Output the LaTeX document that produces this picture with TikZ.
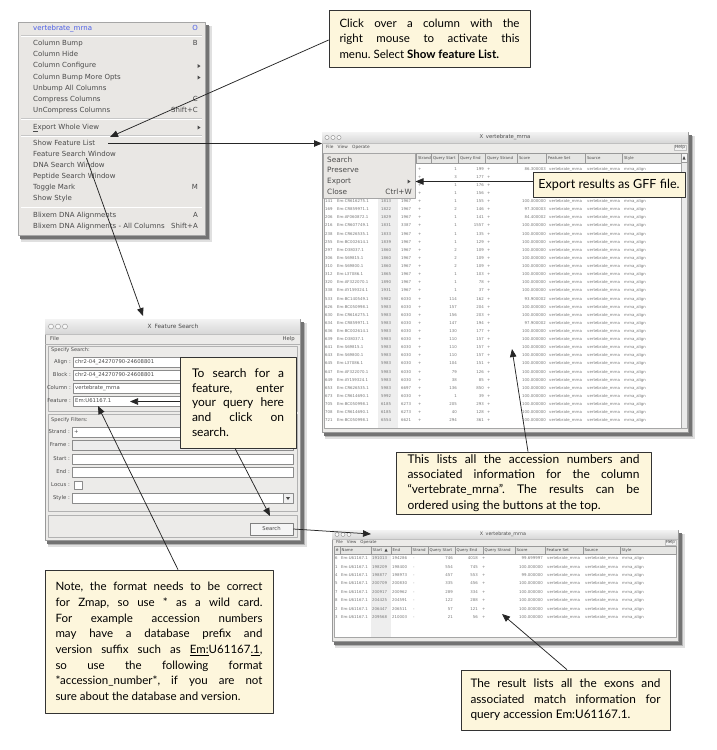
\documentclass[tikz,border=0pt]{standalone}
\usepackage{fontspec}
\setmainfont{Lato}
\newfontfamily\ui{DejaVu Sans}
\usetikzlibrary{arrows.meta,shadows}
\definecolor{cream}{HTML}{FDF6DC}
\definecolor{winbg}{HTML}{ECEBE9}
\definecolor{menubg}{HTML}{E9E7E4}
\definecolor{uitext}{HTML}{4A4A4A}
\definecolor{menublue}{HTML}{4B5EE6}
\definecolor{hdrbg}{HTML}{E6E6E4}
\definecolor{sortcol}{HTML}{EEEEEE}
\definecolor{tabtext}{HTML}{767676}
\newcommand\jl[1]{\hbox to \hsize{\spaceskip=.25em plus 1fil\relax #1}}
\newcommand\jlast[1]{\hbox to \hsize{#1\hfil}}
\newcommand\winshadow[4]{%
  \fill[black!12] (#1+3,#2+4) rectangle (#3+6.5,#4+6.5);
  \fill[black!30] (#1+3,#2+3.5) rectangle (#3+5,#4+5);
  \fill[black!55] (#1+2,#2+2.5) rectangle (#3+3.5,#4+3.5);
}
\tikzset{
 mi/.style={anchor=west, inner sep=0pt, text height=5.3pt, text depth=1.5pt, font=\ui\fontsize{7}{8}\selectfont, text=uitext},
 ms/.style={mi, anchor=east},
 callout/.style={draw=black!80, line width=0.7pt, fill=cream, inner sep=0pt, font=\fontsize{11.5}{15.5}\selectfont, drop shadow={shadow xshift=1.2pt,shadow yshift=-1.2pt,opacity=.45}},
 conn/.style={line width=0.75pt, black!85},
 arr/.style={conn, -{Triangle[length=8pt,width=6.5pt]}},
 tc/.style={inner sep=0pt, font=\ui\fontsize{3.9}{4}\selectfont, text=tabtext, text height=3pt, text depth=0.8pt},
 tcw/.style={tc, anchor=west},
 tce/.style={tc, anchor=east},
 hl/.style={tc, anchor=west, text=uitext},
 fl/.style={inner sep=0pt, anchor=east, font=\ui\fontsize{5.3}{6}\selectfont, text=uitext},
 ft/.style={inner sep=0pt, anchor=west, font=\ui\fontsize{5.3}{6}\selectfont, text=uitext},
 field/.style={draw=black!45, fill=white, line width=0.4pt},
 ttl/.style={inner sep=0pt, font=\ui\fontsize{5.3}{6}\selectfont, text=uitext},
 mb/.style={inner sep=0pt, anchor=west, font=\ui\fontsize{4.3}{5}\selectfont, text=uitext},
 hb/.style={inner sep=0.8pt, anchor=east, font=\ui\fontsize{4.3}{5}\selectfont, text=uitext, draw=black!25, fill=black!5},
 pm/.style={anchor=west, inner sep=0pt, text height=5.5pt, text depth=1.5pt, font=\ui\fontsize{7.3}{8}\selectfont, text=uitext},
}
\begin{document}
\begin{tikzpicture}[x=1pt,y=-1pt,line join=round]
\useasboundingbox (0,0) rectangle (716,750);
\fill[white] (0,0) rectangle (716,750);

% ================= Context menu
\winshadow{18}{22}{205}{235}
\filldraw[fill=menubg,draw=black!35,line width=.4pt] (18,22) rectangle (205,235);
\node[mi,text=menublue] (cm0) at (33,28.5) {vertebrate\_mrna};
\node[ms,text=menublue] (cm0k) at (198,28.5) {O};
\node[mi] (cm1) at (33,44) {Column Bump};
\node[ms] (cm1k) at (198,44) {B};
\node[mi] (cm2) at (33,55) {Column Hide};
\node[mi] (cm3) at (33,66) {Column Configure};
\node[mi] (cm4) at (33,77.5) {Column Bump More Opts};
\node[mi] (cm5) at (33,89) {Unbump All Columns};
\node[mi] (cm6) at (33,100) {Compress Columns};
\node[ms] (cm6k) at (198,100) {C};
\node[mi] (cm7) at (33,111) {UnCompress Columns};
\node[ms] (cm7k) at (198,111) {Shift+C};
\node[mi] (cm8) at (33,127.5) {\underline{E}xport Whole View};
\node[mi] (sfl) at (33,143.5) {Show Feature List};
\node[mi] (fsw) at (33,154.5) {Feature Search Window};
\node[mi] (cm11) at (33,165.5) {DNA Search Window};
\node[mi] (cm12) at (33,177) {Peptide Search Window};
\node[mi] (cm13) at (33,188) {Toggle Mark};
\node[ms] (cm13k) at (198,188) {M};
\node[mi] (cm14) at (33,199) {Show Style};
\node[mi] (cm15) at (33,215.5) {Blixem DNA Alignments};
\node[ms] (cm15k) at (198,215.5) {A};
\node[mi] (cm16) at (33,226.5) {Blixem DNA Alignments - All Columns};
\node[ms] (cm16k) at (198,226.5) {Shift+A};
\foreach \yy in {66,77.5,127.5} \fill[uitext] (197.5,\yy-2) -- (200.5,\yy) -- (197.5,\yy+2) -- cycle;
\foreach \yy in {35.5,118.5,135.5,207} {\draw[black!22,line width=.6pt] (21,\yy) -- (202,\yy); \draw[white,line width=.5pt] (21,\yy+.7) -- (202,\yy+.7);}

% ================= Middle window (feature list)
\winshadow{322}{132}{688}{432}
\filldraw[fill=winbg,draw=black!40,line width=.4pt] (322,132) rectangle (688,432);
\shade[top color=black!5,bottom color=black!16] (322.2,132.2) rectangle (687.8,143);
\foreach \cx in {327,333,339} \draw[black!45,line width=.4pt,fill=black!3] (\cx,137.5) circle (2.1);
\node[ttl] (mwtitle) at (505,137.5) {X\enspace vertebrate\_mrna};
\draw[black!25,line width=.4pt] (322,143) -- (688,143);
\node[mb] (mwmenu) at (326,147.8) {File\enspace\enspace View\enspace\enspace Operate};
\node[hb] (mwhelp) at (686,147.8) {Help};
\filldraw[fill=white,draw=black!35,line width=.4pt] (324,153) rectangle (681,428);
\fill[sortcol] (378,163) rectangle (398,427.6);
\foreach \a/\b/\l in {324/336/\#,336/378/Name,378/398/Start,398/416/End,416/431/Strand,431/458/Query Start,458/485/Query End,485/517/Query Strand,517/546/Score,546/585/Feature Set,585/622/Source,622/681/Style}
 {\filldraw[fill=hdrbg,draw=black!40,line width=.35pt] (\a,153) rectangle (\b,163);
  \ifdim\a pt>400pt \node[hl] at (\a+1.8,158) {\l};\fi}
\filldraw[fill=black!8,draw=black!35,line width=.4pt] (681,153) rectangle (687,428);
\filldraw[fill=black!4,draw=black!40,line width=.35pt] (681,153) rectangle (687,162);
\fill[uitext] (682.5,159.5) -- (684,156) -- (685.5,159.5) -- cycle;
\foreach \n/\nm/\s/\e/\qs/\qe/\sc [count=\k from 0] in {
 97/CR616275.1/1769/1967/1/199/86.300003,
 105/BC050998.1/1791/1967/3/177/87.800003,
 112/CR614690.1/1792/1967/1/176/87.500000,
 135/AY159324.1/1812/1967/1/156/99.400002,
 141/CR616275.1/1813/1967/1/155/100.000000,
 169/CR859971.1/1822/1967/2/146/97.300003,
 206/AF060872.1/1829/1967/1/141/84.400002,
 216/CR607749.1/1831/3387/1/1557/100.000000,
 238/CR626535.1/1833/1967/1/135/100.000000,
 255/BC002614.1/1839/1967/1/129/100.000000,
 297/D38037.1/1860/1967/2/109/100.000000,
 306/S69815.1/1860/1967/2/109/100.000000,
 310/S69800.1/1860/1967/2/109/100.000000,
 312/L37086.1/1865/1967/1/103/100.000000,
 320/AF322070.1/1890/1967/1/78/100.000000,
 338/AY159324.1/1931/1967/1/37/100.000000,
 533/BC140549.1/5982/6030/114/162/93.900002,
 626/BC050998.1/5983/6030/157/204/100.000000,
 630/CR616275.1/5983/6030/156/203/100.000000,
 634/CR859971.1/5983/6030/147/194/97.900002,
 636/BC002614.1/5983/6030/130/177/100.000000,
 639/D38037.1/5983/6030/110/157/100.000000,
 641/S69815.1/5983/6030/110/157/100.000000,
 643/S69800.1/5983/6030/110/157/100.000000,
 645/L37086.1/5983/6030/104/151/100.000000,
 647/AF322070.1/5983/6030/79/126/100.000000,
 649/AY159324.1/5983/6030/38/85/100.000000,
 653/CR626535.1/5983/6697/136/850/100.000000,
 673/CR614690.1/5992/6030/1/39/100.000000,
 705/BC050998.1/6185/6273/205/293/100.000000,
 708/CR614690.1/6185/6273/40/128/100.000000,
 721/BC050998.1/6554/6621/294/361/100.000000}
{\pgfmathsetmacro\yy{169+8.12*\k}
 \ifnum\k>3
 \node[tcw] (mr\k-a) at (325,\yy) {\n};
 \node[tcw] (mr\k-b) at (337,\yy) {Em:\nm};
 \node[tcw] (mr\k-c) at (381,\yy) {\s};
 \node[tcw] (mr\k-d) at (401,\yy) {\e};
 \fi
 \node[tcw] (mr\k-e) at (418,\yy) {+};
 \node[tce] (mr\k-f) at (457,\yy) {\qs};
 \node[tce] (mr\k-g) at (484,\yy) {\qe};
 \node[tcw] (mr\k-h) at (487,\yy) {+};
 \ifnum\k=0
 \node[tce] (mr\k-i) at (546,\yy) {\sc};
 \node[tcw] (mr\k-j) at (549,\yy) {vertebrate\_mrna};
 \node[tcw] (mr\k-k) at (587,\yy) {vertebrate\_mrna};
 \node[tcw] (mr\k-l) at (624,\yy) {mrna\_align};
 \fi
 \ifnum\k>3
 \node[tce] (mr\k-i) at (546,\yy) {\sc};
 \node[tcw] (mr\k-j) at (549,\yy) {vertebrate\_mrna};
 \node[tcw] (mr\k-k) at (587,\yy) {vertebrate\_mrna};
 \node[tcw] (mr\k-l) at (624,\yy) {mrna\_align};
 \fi}
% popup menu
\filldraw[fill=menubg,draw=black!35,line width=.4pt] (323,153) rectangle (415,198.5);
\node[pm] (pmsearch) at (327,160) {Search};
\node[pm] (pmpres) at (327,170.5) {Preserve};
\node[pm] (pmexp) at (327,181.5) {Export};
\node[pm] (pmclose) at (327,192) {Close};
\node[pm,anchor=east] (pmkey) at (412,192) {Ctrl+W};
\fill[uitext] (407.5,179.5) -- (410.5,181.5) -- (407.5,183.5) -- cycle;
\coordinate (pmarr) at (415.5,181.5);

% ================= Feature Search window
\winshadow{45}{319}{300}{540}
\filldraw[fill=winbg,draw=black!40,line width=.4pt] (45,319) rectangle (300,540);
\shade[top color=black!5,bottom color=black!16] (45.2,319.2) rectangle (299.8,334);
\foreach \cx in {51,58,65} \draw[black!45,line width=.4pt,fill=black!3] (\cx,326.5) circle (2.5);
\node[ttl,font=\ui\fontsize{5.8}{7}\selectfont] (fstitle) at (173,326.5) {X\enspace Feature Search};
\draw[black!25,line width=.4pt] (45,334) -- (300,334);
\node[ft] (fsfile) at (50,339) {File};
\node[ft,anchor=east] (fshelp) at (295,339) {Help};
\draw[black!30,line width=.4pt] (45,344) -- (300,344);
\draw[black!30,line width=.4pt] (48,346) rectangle (297,411);
\node[ft,font=\ui\fontsize{5}{6}\selectfont] (fsspec) at (51,350) {Specify Search:};
\node[fl] (lalign) at (71,362) {Align :};
\draw[field] (73,357) rectangle (293,367);
\node[ft] (valign) at (75,362) {chr2-04\_24270790-24608801};
\node[fl] (lblock) at (71,375) {Block :};
\draw[field] (73,370) rectangle (293,380);
\node[ft] (vblock) at (75,375) {chr2-04\_24270790-24608801};
\node[fl] (lcol) at (71,388) {Column :};
\draw[field] (73,383) rectangle (293,393);
\node[ft] (vcol) at (75,388) {vertebrate\_mrna};
\node[fl] (lfeat) at (71,401) {Feature :};
\draw[field] (73,396) rectangle (293,406);
\node[ft] (vfeat) at (75,401) {Em:U61167.1};
\draw[black!30,line width=.4pt] (48,414) rectangle (297,511);
\node[ft,font=\ui\fontsize{5}{6}\selectfont] (fsfilt) at (51,420) {Specify Filters:};
\node[fl] (lstrand) at (70,432) {Strand :};
\draw[field] (72,427) rectangle (293,437);
\node[ft] (vstrand) at (74,432) {+};
\node[fl] (lframe) at (70,445) {Frame :};
\draw[field,fill=black!7] (72,440) rectangle (293,450);
\node[fl] (lstart) at (70,459) {Start :};
\draw[field] (72,454) rectangle (293,464);
\node[fl] (lend) at (70,472) {End :};
\draw[field] (72,467) rectangle (293,477);
\node[fl] (llocus) at (70,485) {Locus :};
\draw[field] (74,481) rectangle (82,489);
\node[fl] (lstyle) at (70,498) {Style :};
\draw[field] (72,493) rectangle (283,503);
\filldraw[fill=black!6,draw=black!45,line width=.4pt] (283,493) rectangle (293,503);
\fill[uitext] (286,497) -- (290,497) -- (288,500) -- cycle;
\draw[black!30,line width=.4pt] (48,515) rectangle (297,537);
\node[draw=black!50,fill=black!4,line width=.5pt,minimum width=43pt,minimum height=12pt,inner sep=0pt,font=\ui\fontsize{5.3}{6}\selectfont,text=uitext] (searchbtn) at (271.5,529) {Search};

% ================= Bottom window (results)
\winshadow{332}{530}{678}{641}
\filldraw[fill=winbg,draw=black!40,line width=.4pt] (332,530) rectangle (678,641);
\shade[top color=black!5,bottom color=black!16] (332.2,530.2) rectangle (677.8,539);
\foreach \cx in {337,343,349} \draw[black!45,line width=.4pt,fill=black!3] (\cx,534.5) circle (2);
\node[ttl,font=\ui\fontsize{4.8}{6}\selectfont] (bwtitle) at (503,534.5) {X\enspace vertebrate\_mrna};
\draw[black!25,line width=.4pt] (332,539) -- (678,539);
\node[mb,font=\ui\fontsize{4}{5}\selectfont] (bwmenu) at (336,542.6) {File\enspace\enspace View\enspace\enspace Operate};
\node[hb,font=\ui\fontsize{4}{5}\selectfont] (bwhelp) at (676,542.6) {Help};
\filldraw[fill=white,draw=black!35,line width=.4pt] (334,546) rectangle (676,637);
\fill[sortcol] (371,554) rectangle (391,636.6);
\foreach \a/\b/\l in {334/340/\#,340/371/Name,371/391/Start,391/411/End,411/428/Strand,428/455/Query Start,455/483/Query End,483/515/Query Strand,515/545/Score,545/583/Feature Set,583/620/Source,620/676/Style}
 {\filldraw[fill=hdrbg,draw=black!40,line width=.35pt] (\a,546) rectangle (\b,554);
  \node[hl] at (\a+1.4,550) {\l};}
\fill[uitext] (384.5,551.5) -- (386,548.5) -- (387.5,551.5) -- cycle;
\foreach \n/\s/\e/\qs/\qe/\sc [count=\k from 0] in {
 6/191013/194286/746/4018/99.699997,
 1/198209/198400/554/745/100.000000,
 4/198877/198973/457/553/99.000000,
 5/200709/200830/335/456/100.000000,
 7/200917/200962/289/334/100.000000,
 8/204425/204591/122/288/100.000000,
 2/206447/206511/57/121/100.000000,
 3/209568/210003/21/56/100.000000}
{\pgfmathsetmacro\yy{558.5+8.4*\k}
 \node[tcw] (br\k-a) at (335,\yy) {\n};
 \node[tcw] (br\k-b) at (341,\yy) {Em:U61167.1};
 \node[tcw] (br\k-c) at (372,\yy) {\s};
 \node[tcw] (br\k-d) at (392,\yy) {\e};
 \node[tcw] (br\k-e) at (413,\yy) {-};
 \node[tce] (br\k-f) at (453,\yy) {\qs};
 \node[tce] (br\k-g) at (478,\yy) {\qe};
 \node[tcw] (br\k-h) at (482,\yy) {+};
 \node[tce] (br\k-i) at (543,\yy) {\sc};
 \node[tcw] (br\k-j) at (547,\yy) {vertebrate\_mrna};
 \node[tcw] (br\k-k) at (585,\yy) {vertebrate\_mrna};
 \node[tcw] (br\k-l) at (622,\yy) {mrna\_align};}

% ================= Callouts
\node[callout,minimum width=201pt,minimum height=57pt] (topcall) at (429.5,38.5)
 {\vbox{\hsize=180pt\frenchspacing\baselineskip=15.5pt
  \jl{Click over a column with the}\jl{right mouse to activate this}\jlast{menu. Select \textbf{Show feature List.}}}};
\node[callout,minimum width=152pt,minimum height=25pt,font=\fontsize{12.6}{15}\selectfont] (expcall) at (609,184.5) {Export results as GFF file.};
\node[callout,minimum width=255pt,minimum height=62pt,font=\fontsize{12}{15.5}\selectfont] (midcall) at (523.5,483)
 {\vbox{\hsize=232pt\frenchspacing\baselineskip=15.3pt
  \jl{This lists all the accession numbers and}\jl{associated information for the column}\jl{“vertebrate\_mrna”. The results can be}\jlast{ordered using the buttons at the top.}}};
\node[callout,minimum width=116pt,minimum height=91pt,font=\fontsize{12}{15}\selectfont] (fcall) at (238,402.5)
 {\vbox{\hsize=92pt\frenchspacing\baselineskip=14.8pt
  \jl{To search for a}\jl{feature, enter}\jl{your query here}\jl{and click on}\jlast{search.}}};
\node[callout,minimum width=228pt,minimum height=143pt] (notecall) at (159,641.5)
 {\vbox{\hsize=207pt\frenchspacing\baselineskip=15.7pt
  \jl{Note, the format needs to be correct}\jl{for Zmap, so use * as a wild card.}\jl{For example accession numbers}\jl{may have a database prefix and}\jl{version suffix such as \underline{Em:}U61167\underline{.1},}\jl{so use the following format}\jl{*accession\_number*, if you are not}\jlast{sure about the database and version.}}};
\node[callout,minimum width=209pt,minimum height=60pt,font=\fontsize{11.8}{15.5}\selectfont] (botcall) at (565.5,700)
 {\vbox{\hsize=190pt\frenchspacing\baselineskip=15.5pt
  \jl{The result lists all the exons and}\jl{associated match information for}\jlast{query accession Em:U61167.1.}}};

% ================= Connectors
\coordinate (a1) at (110,137);
\coordinate (mwl) at (322,143.5);
\coordinate (a3) at (143,316);
\coordinate (a5) at (512,349);
\coordinate (a6) at (130,401.5);
\coordinate (a7) at (270,516);
\coordinate (a8) at (98,406);
\coordinate (a9) at (371,534);
\coordinate (a10) at (502,614);
\draw[arr] ([yshift=-1.5pt]topcall.west) -- (a1);
\draw[arr] ([xshift=13pt]sfl.east) -- (mwl);
\draw[arr] ([xshift=12pt]fsw.south) -- (a3);
\draw[arr] (expcall.west |- pmarr) -- (pmarr);
\draw[arr] ([xshift=4.5pt]midcall.north) -- (a5);
\draw[arr] (fcall.west |- a6) -- (a6);
\draw[arr] ([xshift=-3pt]fcall.south) -- (a7);
\draw[arr] ([xshift=19pt]notecall.north) -- (a8);
\draw[arr] (searchbtn.east) -- (a9);
\draw[arr] ([xshift=1.5pt]botcall.north) -- (a10);
\end{tikzpicture}
\end{document}
